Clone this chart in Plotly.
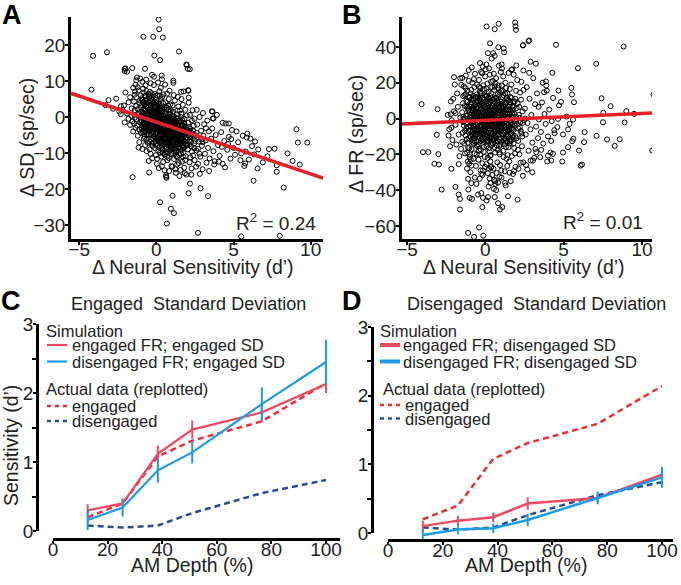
import plotly.graph_objects as go

# ---------------- DATA ----------------
# Panel A: change in SD vs change in neural sensitivity (x = d', y = sp/sec)
sd_points = [
    # outliers
    (0.15,27.1),(0.18,24.4),(-0.84,22.3),(-0.2,22.3),(0.42,22.1),(-4.1,17.0),(-3.2,18.0),(-0.13,17.1),(0.24,15.8),
    (1.47,18.2),(1.95,14.6),(2.04,13.4),(-2.05,13.4),(-2.05,12.8),(-1.56,13.6),(-1.04,10.7),(-0.73,13.4),(-0.28,11.7),
    (0.35,11.5),(1.1,10.1),(1.6,7.0),(2.07,7.5),(2.1,5.4),(-4.2,7.6),(-3.1,4.7),(-3.3,3.3),(-2.8,2.3),(-1.54,-16.7),
    (-0.46,-15.4),(0.64,-16.6),(1.05,-21.9),(0.24,-23.7),(0.94,-25.5),(1.14,-26.7),(0.68,-29.6),(2.18,-18.5),(2.09,-21.2),
    (2.86,-19.8),(2.7,-32.2),(1.85,-15.6),(1.5,-16.4),(9.08,-3.4),(9.17,-7.1),(9.78,-7.1),(10.99,-15.4),(8.83,-12.2),
    (9.3,-13.2),(8.5,-10.1),(8.25,-19.6),(7.66,-8.8),(7.3,-8.9),(7.8,-13.4),(7.8,-15.2),(6.3,-17.7),(6.56,-14.3),(6.4,-6.8),
    (5.9,-4.6),(5.86,-5.7),(3.35,-22.0),(5.5,-33.2),(8.0,-33.0),(5.5,-10.1),(5.76,-12.9),(4.7,-1.8),(4.3,-1.6),(3.64,1.5),
    (3.7,-0.4),(-2.3,3.0),(-2.6,5.1),
    # cloud
    (-2.1,3.2),(-1.9,1.0),(-2.3,0.8),(-1.7,5.5),(-1.8,-0.5),(-2.0,6.8),(-1.6,2.4),(-2.2,2.0),(-1.5,8.1),(-1.9,12.6),
    (-2.0,13.5),(-1.7,-2.2),(-1.6,0.3),(-2.4,1.5),(-1.5,-4.0),(-1.8,4.1),(-1.55,-1.2),(-2.05,-1.5),
    (-1.4,6.2),(-1.3,3.1),(-1.2,0.5),(-1.45,-1.8),(-1.1,-3.5),(-1.35,9.0),(-1.25,11.0),(-1.15,7.4),(-1.05,4.6),(-1.4,1.9),
    (-1.3,-0.6),(-1.2,-5.2),(-1.1,-7.0),(-1.0,2.7),(-1.45,4.3),(-1.3,5.5),(-1.2,8.3),(-1.05,-1.5),(-1.15,1.2),(-1.35,-3.0),
    (-1.0,6.0),(-1.25,-2.4),(-1.1,3.8),(-1.4,-0.2),(-1.0,-4.4),(-1.3,10.2),(-1.15,-8.5),(-1.05,0.0),(-1.2,2.2),(-1.38,7.1),
    (-0.95,5.2),(-0.9,1.3),(-0.85,-2.1),(-0.8,-6.0),(-0.75,3.6),(-0.7,8.8),(-0.65,-0.4),(-0.6,-4.8),(-0.55,2.5),(-0.9,-8.9),
    (-0.8,6.7),(-0.7,-2.9),(-0.6,0.8),(-0.95,-0.9),(-0.85,4.1),(-0.75,-5.5),(-0.65,7.3),(-0.55,-7.2),(-0.9,9.8),(-0.8,2.0),
    (-0.7,-1.2),(-0.6,5.0),(-0.58,-3.3),(-0.88,-4.1),(-0.78,0.4),(-0.68,3.0),(-0.62,-9.5),(-0.92,3.3),(-0.72,-7.8),(-0.52,1.6),
    (-0.82,-1.0),(-0.66,10.4),(-0.74,5.8),(-0.96,-2.8),(-0.56,-0.8),(-0.86,7.9),(-0.64,-6.3),(-0.54,4.2),(-0.76,-3.8),(-0.84,0.9),
    (-0.45,2.0),(-0.4,-1.6),(-0.35,-5.0),(-0.3,4.9),(-0.25,-8.0),(-0.2,0.2),(-0.15,-3.1),(-0.1,6.4),(-0.05,-6.6),(-0.48,-3.7),
    (-0.42,7.0),(-0.38,-10.2),(-0.32,1.1),(-0.28,-2.5),(-0.22,3.5),(-0.18,-7.1),(-0.12,-0.9),(-0.08,2.8),(-0.02,-4.3),(-0.46,5.6),
    (-0.36,-0.3),(-0.26,-4.6),(-0.16,8.9),(-0.06,-1.9),(-0.44,-6.8),(-0.34,3.1),(-0.24,1.8),(-0.14,-5.5),(-0.04,0.6),(-0.47,0.4),
    (-0.37,9.4),(-0.27,-11.5),(-0.17,4.0),(-0.07,-8.7),(-0.41,-2.2),(-0.31,-7.4),(-0.21,6.1),(-0.11,-2.6),(-0.01,3.9),(-0.43,-9.0),
    (-0.33,5.3),(-0.23,-1.3),(-0.13,1.5),(-0.03,-10.6),(-0.39,3.3),(-0.29,-3.9),(-0.19,-6.0),(-0.09,-3.4),(-0.49,-12.2),(-0.15,11.2),
    (0.02,-2.0),(0.05,1.9),(0.08,-5.8),(0.1,4.4),(0.12,-9.3),(0.15,-0.6),(0.18,-3.6),(0.2,7.2),(0.22,-7.0),(0.25,0.9),
    (0.28,-4.9),(0.3,3.0),(0.32,-11.0),(0.35,-1.8),(0.38,5.6),(0.4,-6.4),(0.42,-0.1),(0.45,-3.0),(0.48,2.2),(0.03,-13.0),
    (0.07,-8.0),(0.11,9.6),(0.14,-1.2),(0.17,2.7),(0.21,-2.7),(0.24,-9.9),(0.27,5.0),(0.31,-5.3),(0.34,-8.4),(0.37,1.3),
    (0.41,-4.1),(0.44,-12.5),(0.47,-7.6),(0.04,6.0),(0.09,-3.3),(0.13,0.2),(0.16,-6.6),(0.19,3.7),(0.23,-4.0),(0.26,-1.0),
    (0.29,8.1),(0.33,-2.3),(0.36,-13.7),(0.39,-9.1),(0.43,3.9),(0.46,-1.5),(0.49,-5.0),(0.06,-4.5),(0.26,-6.0),(0.36,10.5),
    (0.16,-14.2),(0.46,6.3),(0.08,2.9),(0.31,0.4),(0.41,-10.0),
    (0.52,-2.5),(0.55,1.0),(0.58,-6.1),(0.6,4.1),(0.62,-9.8),(0.65,-0.4),(0.68,-4.2),(0.7,6.5),(0.72,-7.3),(0.75,-1.5),
    (0.78,2.1),(0.8,-11.4),(0.82,-3.4),(0.85,0.0),(0.88,-5.6),(0.9,3.5),(0.92,-8.6),(0.95,-2.0),(0.98,-13.6),(0.53,-14.8),
    (0.57,9.0),(0.61,-3.0),(0.64,-5.4),(0.67,2.6),(0.71,-12.0),(0.74,-0.8),(0.77,-9.0),(0.81,5.0),(0.84,-6.4),(0.87,-1.0),
    (0.91,-4.8),(0.94,1.8),(0.97,-10.3),(0.54,-8.3),(0.59,-1.2),(0.63,-16.2),(0.66,-16.9),(0.69,-11.0),(0.73,-4.5),(0.76,3.2),
    (0.79,-6.9),(0.83,-15.0),(0.86,-2.9),(0.89,0.9),(0.93,-7.7),(0.96,-3.7),(0.99,-0.3),(0.56,-4.0),(0.7,0.5),(0.85,7.3),
    (1.02,-2.2),(1.05,-5.3),(1.08,1.4),(1.1,-8.1),(1.12,-3.9),(1.15,-11.7),(1.18,-0.8),(1.2,4.6),(1.22,-6.2),(1.25,-1.9),
    (1.28,-9.6),(1.3,-4.4),(1.32,0.8),(1.35,-13.2),(1.38,-7.0),(1.4,-2.6),(1.42,2.9),(1.45,-5.1),(1.48,-10.6),(1.03,-13.8),
    (1.07,-7.2),(1.13,6.1),(1.17,-4.6),(1.23,-14.5),(1.27,-0.2),(1.33,-6.6),(1.37,-3.2),(1.43,-8.8),(1.47,-1.1),(1.06,3.2),
    (1.16,-9.9),(1.26,-15.5),(1.36,1.8),(1.46,-12.8),(1.11,9.5),(1.21,-3.0),(1.31,-11.0),(1.41,-4.9),(1.09,-0.4),(1.39,5.6),
    (1.52,-3.5),(1.55,-7.4),(1.58,-1.2),(1.6,-10.2),(1.62,0.9),(1.65,-5.5),(1.68,-12.4),(1.7,-2.4),(1.72,3.4),(1.75,-8.5),
    (1.78,-4.1),(1.8,-14.1),(1.82,-0.5),(1.85,-6.8),(1.88,2.0),(1.9,-10.9),(1.92,-3.0),(1.95,-16.0),(1.98,-5.9),(1.57,-14.7),
    (1.63,5.0),(1.67,-9.1),(1.73,-6.2),(1.77,7.1),(1.83,-2.0),(1.87,-12.0),(1.93,-8.0),(1.97,0.4),(1.53,1.8),(1.96,14.4),
    (2.02,-4.2),(2.05,-9.0),(2.08,-1.6),(2.12,-6.5),(2.15,-12.6),(2.18,0.6),(2.22,-3.3),(2.25,-8.1),(2.28,-14.3),(2.32,-5.0),
    (2.35,1.9),(2.38,-10.7),(2.42,-2.4),(2.45,-7.3),(2.48,-12.0),(2.1,4.0),(2.2,-11.2),(2.3,-1.0),(2.4,-5.8),(2.07,7.3),
    (2.17,13.3),(2.27,-16.0),(2.37,-3.8),(2.47,-0.5),(2.13,-7.6),
    (2.55,-5.1),(2.6,-9.3),(2.65,-2.1),(2.7,-13.0),(2.75,-6.8),(2.8,0.0),(2.85,-11.0),(2.9,-3.8),(2.95,-8.0),(3.0,-14.5),
    (3.05,-5.2),(3.1,-2.0),(3.15,-10.2),(3.2,-6.5),(3.25,-12.7),(3.3,-1.0),(3.35,-8.6),(3.4,-4.0),(3.45,-11.5),(2.62,2.0),
    (2.82,-15.8),(3.02,1.1),(3.22,-3.1),(3.42,-15.0),(2.58,-13.8),
    (3.55,-6.0),(3.62,-3.2),(3.7,-9.5),(3.78,-12.3),(3.85,-5.0),(3.92,0.6),(4.0,-7.8),(4.1,-10.8),(4.2,-4.2),(4.3,-13.0),
    (4.4,-6.7),(4.5,-1.8),(4.6,-9.1),(4.7,-5.5),(4.8,-11.6),(4.9,-3.6),(5.0,-8.6),(3.6,1.6),(3.65,-0.4),(4.05,-12.4),
    (4.25,-8.3),(4.45,-14.0),(4.65,-7.5),(3.75,-13.2),(4.85,-6.1),
    (5.1,-10.5),(5.3,-7.0),(5.45,-12.0),(5.6,-5.2),(5.8,-9.6),(6.0,-11.8),(6.2,-8.1),(6.35,-10.4),(6.6,-9.0),(6.9,-12.6),
    (7.2,-10.9),(5.2,-4.0),(6.1,-6.0),(5.7,-13.6),
    # dense core
    (-0.75,0.2),(-0.6,-1.5),(-0.45,3.8),(-0.3,-0.8),(-0.15,1.2),(0.0,-3.0),(0.15,-1.6),(0.3,0.5),(0.45,-2.0),(0.6,-3.8),
    (0.75,-5.0),(0.9,-1.6),(1.05,-3.6),(1.2,-6.0),(1.35,-2.0),(1.5,-4.6),(1.65,-7.2),(-0.7,4.5),(-0.55,-3.6),(-0.4,1.4),
    (-0.25,-2.0),(-0.1,4.2),(0.05,-0.2),(0.2,-5.0),(0.35,2.4),(0.5,-0.9),(0.65,-7.5),(0.8,-0.1),(0.95,-5.6),(1.1,0.3),
    (1.25,-7.8),(1.4,-0.4),(1.55,-9.0),(1.7,-4.8),(-0.65,-2.4),(-0.5,6.4),(-0.35,-6.2),(-0.2,2.3),(-0.05,-7.5),(0.1,1.0),
    (0.25,-3.4),(0.4,-8.8),(0.55,2.7),(0.7,-2.7),(0.85,-9.4),(1.0,-3.0),(1.15,-1.4),(1.3,-9.2),(1.45,-3.3),(1.6,0.0),
    (1.75,-9.9),(-0.8,-4.8),(-0.62,2.9),(-0.48,-4.9),(-0.32,6.6),(-0.18,-4.0),(-0.02,0.9),(0.12,-6.2),(0.28,-1.3),(0.42,1.6),
    (0.58,-4.9),(0.72,-9.9),(0.88,1.4),(1.02,-8.0),(1.18,-5.0),(1.32,-3.8),(1.48,-6.8),(1.62,-2.6),(1.78,-6.6),(-0.72,1.7),
    (-0.58,-0.6),(-0.42,-1.6),(-0.28,0.5),(-0.12,-5.2),(0.02,3.2),(0.18,-8.5),(0.32,-3.9),(0.48,-6.1),(0.62,0.0),(0.78,-3.2),
    (0.92,-6.5),(1.08,-10.2),(1.22,-1.3),(1.38,-11.2),(1.52,-2.2),(1.68,-0.8),(1.82,-8.4),(-0.9,-2.0),(-0.78,3.3),(0.05,-11.6),
    (0.22,5.9),(0.38,-6.9),(0.52,-10.4),(0.68,-1.8),(0.82,-7.2),(0.98,-8.6),(1.12,-4.2),(1.28,-5.8),(1.42,-7.4),(1.58,-5.9),
    (1.72,-11.0),(1.88,-4.8),(2.0,-7.8),(2.1,-2.8),(2.2,-5.6),(2.3,-9.6),(2.4,-3.8),(2.5,-6.6),(2.6,-4.4),(2.7,-8.8),
    (2.8,-10.2),(2.9,-6.2),(3.0,-7.0),
    (-0.97,1.5),(-0.83,-0.3),(-0.69,5.9),(-0.57,-2.2),(-0.43,0.0),(-0.29,-3.3),(-0.17,2.9),(-0.03,-1.1),(0.11,-4.4),(0.27,-2.1),
    (0.41,-5.6),(0.57,-1.9),(0.71,-4.0),(0.87,-7.9),(1.01,-5.0),(1.17,-2.6),(1.31,-6.9),(1.47,-8.3),(1.61,-4.0),(1.77,-3.1),
    (-0.93,-3.3),(-0.79,1.0),(-0.67,-4.1),(-0.53,2.0),(-0.39,-3.0),(-0.23,4.6),(-0.09,-2.3),(0.07,0.4),(0.21,-1.0),(0.37,-4.6),
    (0.51,-3.2),(0.67,-6.0),(0.83,-2.2),(0.97,-4.4),(1.13,-7.0),(1.27,-3.9),(1.43,-2.4),(1.57,-6.4),(1.73,-8.0),(1.87,-6.0),
    (-0.87,0.3),(-0.73,-1.9),(-0.61,3.9),(-0.47,-0.9),(-0.33,2.2),(-0.19,-1.8),(-0.07,1.7),(0.09,-2.5),(0.23,2.0),(0.39,-0.6),
    (0.53,-5.8),(0.69,-3.5),(0.81,-1.2),(0.99,-2.5),(1.11,-5.8),(1.29,-1.6),(1.41,-5.6),(1.59,-3.4),(1.69,-5.2),(1.83,-3.8),
    (-0.99,-1.1),(-0.81,-3.0),(-0.63,0.9),(-0.51,-1.9),(-0.37,4.4),(-0.21,-0.2),(-0.01,-5.8),(0.13,2.3),(0.29,-6.8),(0.43,-3.7),
    (0.59,-7.0),(0.73,-0.8),(0.89,-4.1),(1.03,-0.6),(1.19,-8.8),(1.33,-5.2),(1.49,-0.9),(1.63,-7.0),(1.79,-1.6),(1.91,-7.6),
    (-0.89,4.7),(-0.71,-0.8),(-0.59,-2.8),(-0.41,-3.8),(-0.27,1.5),(-0.11,-0.1),(0.03,-1.5),(0.17,-3.9),(0.33,1.7),(0.47,-0.4),
    (0.61,-2.0),(0.77,-5.5),(0.91,-2.9),(1.07,-4.8),(1.21,-2.2),(1.37,-4.5),(1.51,-6.9),(1.67,-3.6),(1.81,-5.3),(1.99,-3.5),
    (-0.77,-2.7),(-0.49,0.8),(-0.31,-1.5),(0.01,1.4),(0.19,-0.6),(0.31,-2.8),(0.49,-2.6),(0.63,-1.4),(0.79,-6.2),(0.93,-0.4),
    (1.09,-6.4),(1.23,-4.4),(1.39,-1.0),(1.53,-5.0),(1.71,-2.2),(2.05,-5.0),(2.15,-3.9),(2.25,-6.9),(2.35,-4.6),(2.45,-8.7),
]
# Panel B: change in FR vs change in neural sensitivity
fr_points = [
    # outliers
    (0.08,51.4),(0.6,49.9),(0.85,52.9),(1.9,53.6),(1.92,51.5),(1.96,49.5),(0.3,42.0),(0.83,39.8),(0.17,36.5),(0.5,36.5),
    (0.6,35.0),(1.17,39.1),(1.2,37.0),(2.4,41.0),(2.8,43.6),(-2.0,23.1),(-1.47,22.7),(-1.53,18.8),(-4.07,8.0),(-3.05,5.2),
    (-2.2,2.4),(-1.9,3.0),(-2.17,-5.2),(-0.2,25.3),(0.06,30.2),(1.04,30.2),(1.66,27.2),(1.98,29.6),(2.43,26.8),
    (-3.1,-9.1),(-3.98,-18.8),(-3.64,-18.8),(-3.0,-19.9),(-3.25,-25.3),(-2.96,-25.7),(-2.17,-28.1),(-2.79,-39.7),(-1.91,-38.2),
    (-1.62,-50.8),(-1.7,-42.5),(-1.62,-44.9),(-1.1,-63.9),(-0.72,-66.1),(-0.4,-60.9),(-0.13,-65.4),(-1.08,-39.7),(-1.0,-44.3),
    (-0.85,-44.9),(-0.47,-42.5),(-0.26,-41.7),(-0.15,-44.3),(0.17,-43.9),(0.08,-45.8),(-0.19,-49.5),(0.6,-43.9),(0.81,-47.3),
    (0.94,-50.8),(1.08,-49.5),(1.45,-43.4),(2.06,-45.3),(0.55,-39.3),(0.55,-34.2),(0.64,-36.5),(0.81,-35.8),(1.3,-37.4),
    (-1.1,-33.7),(-0.89,-36.1),(-0.57,-36.5),(-0.36,-33.7),(-0.26,-30.9),(-0.15,-29.0),(0.23,-28.1),(0.38,-27.2),(1.02,-29.0),
    (1.55,-30.3),(1.83,-29.4),(2.25,-24.7),(2.68,-28.5),(2.89,-23.5),(-0.89,-26.3),(-1.0,-21.6),(-1.04,-25.3),
    (2.4,40.8),(2.76,43.2),(4.51,41.2),(8.83,40.2),(7.08,30.6),(5.91,28.1),(2.89,31.7),(3.23,30.6),(4.28,25.5),(10.74,13.4),
    (7.42,11.3),(8.0,6.9),(5.49,17.1),(5.53,13.4),(5.66,9.1),(4.66,15.6),(4.83,9.3),(4.7,7.3),(3.87,20.7),(3.89,18.4),
    (3.75,14.7),(7.53,3.2),(9.0,4.1),(9.5,2.6),(7.51,-2.1),(8.89,-2.2),(7.1,-9.7),(7.77,-11.7),(8.26,-15.3),(8.58,-11.6),
    (10.66,-17.9),(6.34,-7.6),(6.3,-13.2),(5.98,-17.9),(5.62,-11.3),(5.55,-12.7),(6.08,-26.3),(6.17,-25.7),(4.91,-24.0),
    (4.21,-23.5),(3.51,-21.6),(3.04,-23.5),(5.28,-16.0),(4.96,-19.0),(4.32,-19.7),(4.0,-20.7),(3.57,-17.5),(3.25,-18.8),
    (5.28,-6.1),(4.96,-8.9),(4.6,-4.8),(4.42,-8.2),(4.64,-0.2),(5.19,1.1),(5.38,-3.0),(5.6,-0.6),
    # cloud
    (-2.4,2.0),(-2.3,-6.0),(-2.2,9.5),(-2.1,-12.0),(-2.0,4.0),(-1.9,-3.5),(-1.8,14.0),(-1.7,-9.0),(-1.6,0.5),(-1.55,-17.0),
    (-2.35,-9.5),(-2.15,-1.0),(-1.95,19.0),(-1.75,6.5),(-1.65,-21.0),(-1.85,-14.5),(-2.05,11.0),(-1.6,22.5),(-2.25,-15.5),(-1.7,-25.5),
    (-1.48,3.5),(-1.45,-8.0),(-1.42,12.5),(-1.4,-2.0),(-1.38,18.0),(-1.35,-14.0),(-1.32,7.0),(-1.3,-19.5),(-1.28,0.0),(-1.25,24.0),
    (-1.22,-5.5),(-1.2,10.0),(-1.18,-11.5),(-1.15,15.5),(-1.12,-24.0),(-1.1,4.5),(-1.08,-1.0),(-1.05,21.0),(-1.02,-16.5),(-1.47,-13.0),
    (-1.43,8.5),(-1.37,-4.0),(-1.33,13.0),(-1.27,-9.5),(-1.23,1.5),(-1.17,-28.0),(-1.13,6.0),(-1.07,-7.0),(-1.03,11.5),(-1.26,17.0),
    (-1.16,-19.0),(-1.06,27.0),(-1.41,-0.5),(-1.21,-3.0),(-1.11,-13.5),
    (-0.98,1.0),(-0.96,-10.0),(-0.94,14.0),(-0.92,-4.5),(-0.9,8.0),(-0.88,-17.0),(-0.86,3.0),(-0.84,20.0),(-0.82,-7.5),(-0.8,-1.5),
    (-0.78,11.0),(-0.76,-22.5),(-0.74,5.5),(-0.72,-12.5),(-0.7,17.5),(-0.68,-3.0),(-0.66,25.0),(-0.64,-9.0),(-0.62,0.5),(-0.6,-26.5),
    (-0.58,9.0),(-0.56,-15.0),(-0.54,13.5),(-0.52,-5.0),(-0.97,6.5),(-0.93,-23.0),(-0.89,16.0),(-0.85,-13.0),(-0.81,4.0),(-0.77,-0.5),
    (-0.73,22.0),(-0.69,-19.5),(-0.65,7.5),(-0.61,-6.5),(-0.57,2.5),(-0.53,19.0),(-0.95,-30.0),(-0.87,28.5),(-0.79,-11.0),(-0.71,-8.0),
    (-0.63,12.0),(-0.55,-20.0),(-0.75,1.5),(-0.67,-33.0),(-0.59,6.0),
    (-0.49,-2.5),(-0.47,9.5),(-0.45,-14.5),(-0.43,4.0),(-0.41,21.5),(-0.39,-8.5),(-0.37,-0.5),(-0.35,15.0),(-0.33,-20.0),(-0.31,6.5),
    (-0.29,-4.5),(-0.27,26.0),(-0.25,-11.5),(-0.23,1.0),(-0.21,11.5),(-0.19,-25.0),(-0.17,7.0),(-0.15,-6.0),(-0.13,18.5),(-0.11,-16.0),
    (-0.09,3.5),(-0.07,-1.0),(-0.05,13.0),(-0.03,-9.5),(-0.01,23.5),(-0.48,12.0),(-0.44,-23.0),(-0.4,0.0),(-0.36,-11.0),(-0.32,17.0),
    (-0.28,-17.5),(-0.24,5.0),(-0.2,-3.0),(-0.16,29.0),(-0.12,-13.0),(-0.08,9.0),(-0.04,-21.5),(-0.46,-6.5),(-0.38,7.5),(-0.3,-29.0),
    (-0.22,14.0),(-0.14,-8.0),(-0.06,2.0),(-0.02,-5.0),(-0.26,-0.5),(-0.18,-31.5),(-0.1,16.5),(-0.42,-18.0),(-0.34,31.0),(-0.02,-27.0),
    (0.01,0.5),(0.03,-7.5),(0.05,12.5),(0.07,-15.5),(0.09,5.5),(0.11,-2.0),(0.13,19.5),(0.15,-22.0),(0.17,8.5),(0.19,-4.0),
    (0.21,15.0),(0.23,-11.0),(0.25,2.5),(0.27,-18.5),(0.29,24.5),(0.31,-6.5),(0.33,10.0),(0.35,-0.5),(0.37,-27.0),(0.39,6.0),
    (0.41,-13.5),(0.43,17.5),(0.45,-3.5),(0.47,-9.0),(0.49,21.0),(0.02,27.5),(0.06,-25.5),(0.1,3.0),(0.14,-9.5),(0.18,1.5),
    (0.22,-16.5),(0.26,11.0),(0.3,-1.5),(0.34,-20.5),(0.38,14.0),(0.42,-5.5),(0.46,7.5),(0.04,-3.5),(0.08,16.5),(0.12,-12.5),
    (0.16,-30.5),(0.2,-8.0),(0.24,28.0),(0.28,4.5),(0.32,-24.0),(0.36,20.5),(0.4,-10.5),(0.44,0.0),(0.48,-14.0),(0.12,9.5),
    (0.28,-33.5),(0.4,33.5),(0.2,-38.0),(0.33,-36.0),(0.45,-31.5),
    (0.51,-1.0),(0.53,8.0),(0.55,-12.0),(0.57,16.0),(0.59,-5.0),(0.61,2.0),(0.63,-19.0),(0.65,11.5),(0.67,-8.5),(0.69,22.5),
    (0.71,-2.5),(0.73,-15.0),(0.75,5.0),(0.77,-24.5),(0.79,13.5),(0.81,-6.0),(0.83,0.5),(0.85,18.5),(0.87,-11.5),(0.89,6.5),
    (0.91,-20.0),(0.93,-3.0),(0.95,9.5),(0.97,-14.5),(0.99,26.0),(0.52,-28.0),(0.56,4.0),(0.6,-9.5),(0.64,19.5),(0.68,-0.5),
    (0.72,-30.5),(0.76,10.0),(0.8,-17.5),(0.84,3.5),(0.88,-7.0),(0.92,14.5),(0.96,-1.5),(0.54,25.0),(0.62,-35.0),(0.7,7.5),
    (0.78,-4.0),(0.86,29.5),(0.94,-26.0),(0.58,-16.0),(0.66,1.0),(0.74,-12.5),(0.82,17.0),(0.9,-32.5),(0.98,4.5),(0.7,-40.0),
    (1.01,-4.5),(1.04,6.0),(1.07,-13.0),(1.1,15.5),(1.13,-1.0),(1.16,-21.5),(1.19,9.0),(1.22,-7.5),(1.25,2.5),(1.28,20.0),
    (1.31,-16.0),(1.34,-3.0),(1.37,11.5),(1.4,-26.5),(1.43,5.0),(1.46,-10.0),(1.49,25.5),(1.03,-33.0),(1.06,28.0),(1.09,-8.5),
    (1.12,3.5),(1.15,-18.0),(1.18,13.0),(1.21,-0.5),(1.24,-29.5),(1.27,8.0),(1.3,-12.5),(1.33,17.0),(1.36,-5.5),(1.39,1.0),
    (1.42,-20.5),(1.45,10.5),(1.48,-2.0),(1.05,18.5),(1.2,-14.5),(1.35,-22.5),(1.11,0.0),(1.26,-36.0),(1.41,14.0),(1.14,23.5),
    (1.51,-6.0),(1.54,4.5),(1.57,-14.0),(1.6,12.0),(1.63,-2.5),(1.66,19.0),(1.69,-21.0),(1.72,7.0),(1.75,-9.5),(1.78,0.5),
    (1.81,24.5),(1.84,-16.5),(1.87,9.5),(1.9,-4.0),(1.93,-27.0),(1.96,15.5),(1.99,-11.0),(1.53,-24.0),(1.59,0.0),(1.65,-8.0),
    (1.71,27.5),(1.77,-31.0),(1.83,3.0),(1.89,-19.5),(1.95,-1.5),(1.56,16.5),(1.68,-12.0),(1.8,-6.5),(1.92,11.0),(1.62,-35.0),
    (2.02,-3.0),(2.06,8.5),(2.1,-12.5),(2.14,2.0),(2.18,-20.0),(2.22,14.5),(2.26,-7.0),(2.3,20.5),(2.34,-15.5),(2.38,4.0),
    (2.42,-24.5),(2.46,-1.0),(2.04,21.5),(2.12,-28.0),(2.2,-5.0),(2.28,10.5),(2.36,-10.0),(2.44,16.0),(2.08,-17.5),(2.16,6.5),
    (2.4,-32.0),(2.24,-2.0),
    (2.52,5.5),(2.58,-9.0),(2.64,17.5),(2.7,-2.5),(2.76,-18.0),(2.82,11.0),(2.88,-6.0),(2.94,2.0),(3.0,-13.5),(3.06,22.5),
    (3.12,-22.0),(3.18,8.0),(3.24,-4.5),(3.3,14.0),(3.36,-11.0),(3.42,-0.5),(2.6,-26.0),(2.8,25.5),(3.0,-30.0),(3.2,-17.0),
    (3.4,6.5),(2.55,0.0),
    (3.55,-7.5),(3.62,9.0),(3.7,-14.0),(3.78,2.5),(3.85,-3.0),(3.92,15.5),(4.0,-10.0),(4.08,5.0),(4.16,-19.0),(4.24,-1.5),
    (4.32,11.5),(4.4,-6.5),(3.66,20.0),(3.95,-24.0),(4.2,-12.5),
    # dense core
    (-0.95,-4.0),(-0.8,6.0),(-0.65,-9.8),(-0.5,3.0),(-0.35,-2.0),(-0.2,8.2),(-0.05,-6.4),(0.1,-0.8),(0.25,5.6),(0.4,-4.2),
    (0.55,11.0),(0.7,-6.8),(0.85,1.8),(1.0,-10.8),(1.15,6.8),(1.3,-4.8),(1.45,0.8),(1.6,-8.8),(1.75,4.6),(-0.9,10.5),
    (-0.75,-14.0),(-0.6,-0.2),(-0.45,-10.0),(-0.3,4.8),(-0.15,-12.0),(0.0,6.4),(0.15,-5.6),(0.3,9.0),(0.45,-12.0),(0.6,3.6),
    (0.75,-2.2),(0.9,13.0),(1.05,-2.8),(1.2,4.0),(1.35,-9.0),(1.5,10.0),(1.65,-2.0),(1.8,-14.0),(-0.85,-7.6),(-0.7,2.6),
    (-0.55,-12.6),(-0.4,10.8),(-0.25,-8.0),(-0.1,0.6),(0.05,-13.0),(0.2,11.6),(0.35,-2.8),(0.5,-7.0),(0.65,6.0),(0.8,-12.6),
    (0.95,-4.6),(1.1,8.4),(1.25,-8.0),(1.4,2.4),(1.55,-12.8),(1.7,0.8),(-0.98,0.6),(-0.82,-2.6),(-0.68,8.4),(-0.52,-6.0),
    (-0.38,0.9),(-0.22,-4.6),(-0.08,10.8),(0.08,-9.6),(0.22,1.8),(0.38,-15.0),(0.52,5.2),(0.68,-10.4),(0.82,8.8),(0.98,-7.2),
    (1.12,-0.6),(1.28,13.8),(1.42,-6.6),(1.58,7.6),(1.72,-6.0),(-0.92,-10.2),(-0.78,12.6),(-0.62,4.0),(-0.48,-15.8),(-0.32,14.2),
    (-0.18,-1.4),(-0.02,-8.8),(0.12,4.6),(0.28,-10.8),(0.42,7.0),(0.58,-3.6),(0.72,1.0),(0.88,-15.4),(1.02,2.2),(1.18,-12.0),
    (1.32,-1.4),(1.48,-16.0),(1.62,3.8),(1.78,9.4),(-1.3,-6.8),(-1.2,6.6),(-1.1,-16.4),(-1.25,13.6),(1.9,-9.8),(2.0,5.8),
    (2.1,-5.6),(2.2,0.4),(2.3,-8.4),(-1.4,0.9),(2.4,-2.4),(-1.0,-20.0),(0.3,-20.8),(0.6,17.8),(1.0,15.4),(-0.4,17.8),
    (-0.1,-18.6),(0.9,-19.0),
    (-1.15,-2.0),(-1.05,5.0),(-0.95,-7.0),(-0.85,9.0),(-0.75,-4.0),(-0.65,1.0),(-0.55,6.5),(-0.45,-6.5),(-0.35,11.0),(-0.25,-1.0),
    (-0.15,4.0),(-0.05,-3.0),(0.05,9.5),(0.15,-10.0),(0.25,-1.5),(0.35,4.0),(0.45,-8.5),(0.55,0.5),(0.65,-5.0),(0.75,8.0),
    (0.85,-9.0),(0.95,3.0),(1.05,-6.0),(1.15,1.5),(1.25,-11.0),(1.35,5.0),(1.45,-3.5),(1.55,2.5),(1.65,-5.5),(1.75,-10.5),
    (-1.12,9.5),(-1.02,-11.0),(-0.92,2.0),(-0.82,-12.0),(-0.72,7.0),(-0.62,-3.5),(-0.52,10.0),(-0.42,-1.5),(-0.32,-7.0),(-0.22,1.5),
    (-0.12,7.5),(-0.02,2.5),(0.08,-4.5),(0.18,6.0),(0.28,-6.0),(0.38,1.0),(0.48,10.5),(0.58,-7.5),(0.68,4.0),(0.78,-1.0),
    (0.88,5.5),(0.98,-2.0),(1.08,12.0),(1.18,-4.0),(1.28,3.5),(1.38,-6.0),(1.48,6.5),(1.58,-1.0),(1.68,11.5),(1.85,-3.0),
    (-1.18,1.5),(-1.08,-4.5),(-0.98,12.0),(-0.88,-0.5),(-0.78,-9.0),(-0.68,-6.0),(-0.58,-9.5),(-0.48,6.0),(-0.38,-4.0),(-0.28,9.5),
    (-0.18,-9.0),(-0.08,-5.0),(0.02,-11.5),(0.12,1.0),(0.22,-12.5),(0.32,12.5),(0.42,2.5),(0.52,-10.0),(0.62,9.0),(0.72,-3.0),
    (0.82,-5.5),(0.92,-11.5),(1.02,8.0),(1.12,-9.0),(1.22,0.5),(1.32,9.0),(1.42,-9.5),(1.52,-5.0),(1.62,-12.5),(1.72,3.0),
    (-1.0,3.5),(-0.9,-2.5),(-0.8,4.5),(-0.7,-11.0),(-0.6,12.0),(-0.5,-3.0),(-0.4,3.0),(-0.3,-12.5),(-0.2,-6.0),(-0.1,3.0),
    (0.0,-1.5),(0.1,12.5),(0.2,-2.5),(0.3,2.5),(0.4,-2.0),(0.5,4.5),(0.6,-2.0),(0.7,11.5),(0.8,-8.0),(0.9,-1.0),
    (1.0,-4.0),(1.1,5.0),(1.2,-7.5),(1.3,2.0),(1.4,-13.0),(1.5,-7.0),(1.6,9.0),(1.7,-3.5),(1.8,6.5),(1.95,1.0),
]
# regression lines (end points)
fit_sd_x = [-5.53, 10.8]
fit_sd_y = [6.6, -17.0]
fit_fr_x = [-5.32, 10.64]
fit_fr_y = [-3.0, 3.1]
r2_sd = "0.24"
r2_fr = "0.01"

# Panels C/D: sensitivity vs AM depth
am_depth = [12.7, 25.5, 38.4, 51, 76.5, 100]
c_eng_fr_eng_sd = [0.30, 0.40, 1.12, 1.47, 1.72, 2.13]
c_eng_fr_eng_sd_err = [0.09, 0.06, 0.12, 0.13, 0.14, 0.13]
c_dis_fr_eng_sd = [0.16, 0.34, 0.88, 1.14, 1.84, 2.45]
c_dis_fr_eng_sd_err = [0.15, 0.13, 0.18, 0.16, 0.24, 0.32]
d_eng_fr_dis_sd = [0.10, 0.18, 0.23, 0.43, 0.51, 0.85]
d_eng_fr_dis_sd_err = [0.08, 0.07, 0.07, 0.09, 0.06, 0.11]
d_dis_fr_dis_sd = [-0.03, 0.05, 0.07, 0.19, 0.51, 0.81]
d_dis_fr_dis_sd_err = [0.08, 0.07, 0.07, 0.09, 0.09, 0.15]
actual_engaged = [0.20, 0.40, 1.08, 1.31, 1.59, 2.14]
actual_disengaged = [0.08, 0.05, 0.08, 0.26, 0.55, 0.74]
depth_ticks = [0, 20, 40, 60, 80, 100]

# ---------------- STYLE ----------------
W, H = 681, 585
FONT = "Liberation Sans, Arial, Helvetica, sans-serif"
TXT = "#222222"
RED_SIM = "#EC4A62"
BLUE_SIM = "#1E9BE6"
RED_ACT = "#E8303A"
NAVY_ACT = "#2D4D93"
FIT_RED = "#E5202A"

def px(x):
    return x / W

def py(y):
    return 1 - y / H

fig = go.Figure()

mk = dict(symbol="circle-open", size=5, color="black", line=dict(width=1))
# Panel A scatter
fig.add_trace(go.Scatter(x=[p[0] for p in sd_points], y=[p[1] for p in sd_points], mode="markers", marker=mk,
                         xaxis="x", yaxis="y", showlegend=False, hoverinfo="skip"))
fig.add_trace(go.Scatter(x=fit_sd_x, y=fit_sd_y, mode="lines", line=dict(color=FIT_RED, width=3.5),
                         xaxis="x", yaxis="y", showlegend=False))
# Panel B scatter
fig.add_trace(go.Scatter(x=[p[0] for p in fr_points], y=[p[1] for p in fr_points], mode="markers", marker=mk,
                         xaxis="x2", yaxis="y2", showlegend=False, hoverinfo="skip"))
fig.add_trace(go.Scatter(x=fit_fr_x, y=fit_fr_y, mode="lines", line=dict(color=FIT_RED, width=3.5),
                         xaxis="x2", yaxis="y2", showlegend=False))

DASH = "6px,4px"
# Panel C
for ys, col in [(actual_disengaged, NAVY_ACT), (actual_engaged, RED_ACT)]:
    fig.add_trace(go.Scatter(x=am_depth, y=ys, mode="lines", line=dict(color=col, width=2.5, dash=DASH),
                             xaxis="x3", yaxis="y3", showlegend=False))
for ys, err, col in [(c_eng_fr_eng_sd, c_eng_fr_eng_sd_err, RED_SIM), (c_dis_fr_eng_sd, c_dis_fr_eng_sd_err, BLUE_SIM)]:
    fig.add_trace(go.Scatter(x=am_depth, y=ys, mode="lines", line=dict(color=col, width=2.2),
                             error_y=dict(type="data", array=err, width=0, thickness=2, color=col),
                             xaxis="x3", yaxis="y3", showlegend=False))
# Panel D
for ys, col in [(actual_disengaged, NAVY_ACT), (actual_engaged, RED_ACT)]:
    fig.add_trace(go.Scatter(x=am_depth, y=ys, mode="lines", line=dict(color=col, width=2.5, dash=DASH),
                             xaxis="x4", yaxis="y4", showlegend=False))
for ys, err, col in [(d_eng_fr_dis_sd, d_eng_fr_dis_sd_err, RED_SIM), (d_dis_fr_dis_sd, d_dis_fr_dis_sd_err, BLUE_SIM)]:
    fig.add_trace(go.Scatter(x=am_depth, y=ys, mode="lines", line=dict(color=col, width=2.5),
                             error_y=dict(type="data", array=err, width=0, thickness=2, color=col),
                             xaxis="x4", yaxis="y4", showlegend=False))
# empty traces so that the display sensitivity axes are drawn
fig.add_trace(go.Scatter(x=[None], y=[None], xaxis="x3", yaxis="y5", showlegend=False, hoverinfo="skip"))
fig.add_trace(go.Scatter(x=[None], y=[None], xaxis="x4", yaxis="y6", showlegend=False, hoverinfo="skip"))

tickfont = dict(family=FONT, size=19, color=TXT)
common = dict(showgrid=False, zeroline=False, showline=True, linecolor="black", linewidth=2.5, automargin=False,
              ticks="outside", ticklen=3, tickwidth=1.5, tickcolor="black", tickfont=tickfont)
xcommon = dict(ticklabelstandoff=-12, **common)
xcommon_cd = dict(ticklabelstandoff=-11, **common)
ycommon = dict(ticklabelstandoff=-4, **common)
sens_axis = dict(range=[0, 3], anchor="free", tick0=0, dtick=1,
                 minor=dict(dtick=0.5, ticks="outside", ticklen=4, tickwidth=1.5, tickcolor="black"))

fig.update_layout(
    width=W, height=H, margin=dict(l=0, r=0, t=0, b=0, autoexpand=False),
    paper_bgcolor="white", plot_bgcolor="rgba(0,0,0,0)", showlegend=False,
    font=dict(family=FONT, color=TXT),
    xaxis=dict(domain=[px(71), px(323)], range=[-5.53, 10.8], anchor="y", tickvals=[-5, 0, 5, 10],
               ticktext=["\u22125", "0", "5", "10"], **xcommon),
    yaxis=dict(domain=[py(239), py(17)], range=[-33.9, 27.8], anchor="x", tickvals=[-30, -20, -10, 0, 10, 20],
               ticktext=["\u221230", "\u221220", "\u221210", "0", "10", "20"], **ycommon),
    xaxis2=dict(domain=[px(402), px(652)], range=[-5.32, 10.64], anchor="y2", tickvals=[-5, 0, 5, 10],
                ticktext=["\u22125", "0", "5", "10"], **xcommon),
    yaxis2=dict(domain=[py(239), py(17)], range=[-67.3, 56.7], anchor="x2", tickvals=[-60, -40, -20, 0, 20, 40],
                ticktext=["\u221260", "\u221240", "\u221220", "0", "20", "40"], **ycommon),
    xaxis3=dict(domain=[px(53), px(340)], range=[0, 287 / 2.73], anchor="free", position=py(539),
                tickvals=depth_ticks, **xcommon_cd),
    yaxis3=dict(domain=[py(541.4), py(324)], range=[-0.15, 3.0], anchor="x3", visible=False),
    yaxis5=dict(domain=[py(531), py(324)], position=px(37), **sens_axis, **ycommon),
    xaxis4=dict(domain=[px(388), px(673)], range=[0, 285 / 2.74], anchor="free", position=py(540),
                tickvals=depth_ticks, **xcommon_cd),
    yaxis4=dict(domain=[py(543.3), py(327)], range=[-0.15, 3.0], anchor="x4", visible=False),
    yaxis6=dict(domain=[py(533), py(327)], position=px(372), **sens_axis, **ycommon),
)

ann = []
def text(x, y, s, size=16, xanchor="left", bold=False, angle=0):
    ann.append(dict(x=px(x), y=py(y), xref="paper", yref="paper", text=("<b>%s</b>" % s) if bold else s,
                    showarrow=False, xanchor=xanchor, yanchor="middle", borderpad=0, textangle=angle,
                    font=dict(family=FONT, size=size, color="black" if bold else TXT)))

# panel letters
text(1, 15, "A", 27, bold=True)
text(341, 15, "B", 27, bold=True)
text(0, 301, "C", 27, bold=True)
text(341, 301, "D", 27, bold=True)
# axis titles
TF = 19.5
text(193, 267, "\u0394 Neural Sensitivity (d\u2019)", TF, xanchor="center")
text(524, 267, "\u0394 Neural Sensitivity (d\u2019)", TF, xanchor="center")
text(27, 138, "\u0394 SD (sp/sec)", TF, xanchor="center", angle=-90)
text(356, 134, "\u0394 FR (sp/sec)", TF, xanchor="center", angle=-90)
text(11, 446, "Sensitivity (d\u2019)", TF, xanchor="center", angle=-90)
text(192, 565, "AM Depth (%)", TF, xanchor="center")
text(526, 565, "AM Depth (%)", TF, xanchor="center")
# R^2
text(317, 222, "R<sup>2</sup> = " + r2_sd, 19, xanchor="right")
text(644, 221, "R<sup>2</sup> = " + r2_fr, 19, xanchor="right")
# panel titles
text(188, 304, "Engaged  Standard Deviation", 18, xanchor="center")
text(536, 304, "Disengaged  Standard Deviation", 18, xanchor="center")

shapes = []
def sample(x0, x1, y, color, width, dash=None):
    shapes.append(dict(type="line", xref="paper", yref="paper", x0=px(x0), x1=px(x1), y0=py(y), y1=py(y),
                       line=dict(color=color, width=width, dash=dash)))

LF = 16.5
# legend C
text(45, 331, "Simulation", LF)
sample(47, 67, 345, RED_SIM, 2.2); text(71, 345, "engaged FR; engaged SD", LF)
sample(47, 67, 361.5, BLUE_SIM, 2.2); text(71, 361.5, "disengaged FR; engaged SD", LF)
text(45, 389, "Actual data (replotted)", LF)
sample(47, 67, 406, RED_ACT, 2.5, "4px,4px"); text(71, 406, "engaged", LF)
sample(47, 67, 421, NAVY_ACT, 2.5, "4px,4px"); text(71, 421, "disengaged", LF)
# legend D
text(379, 331, "Simulation", LF)
sample(380, 400, 345, RED_SIM, 4); text(402, 345, "engaged FR; disengaged SD", LF)
sample(380, 400, 361.5, BLUE_SIM, 4); text(402, 361.5, "disengaged FR; disengaged SD", LF)
text(382, 389, "Actual data (replotted)", LF)
sample(380, 401, 405, RED_ACT, 2.5, "4px,4px"); text(404, 405, "engaged", LF)
sample(380, 401, 418.5, NAVY_ACT, 2.5, "4px,4px"); text(404, 418.5, "disengaged", LF)

fig.update_layout(annotations=ann, shapes=shapes)
fig.write_html("out.html", config={"displayModeBar": False},
               post_script="document.body.style.margin='0';document.body.style.padding='0';")
